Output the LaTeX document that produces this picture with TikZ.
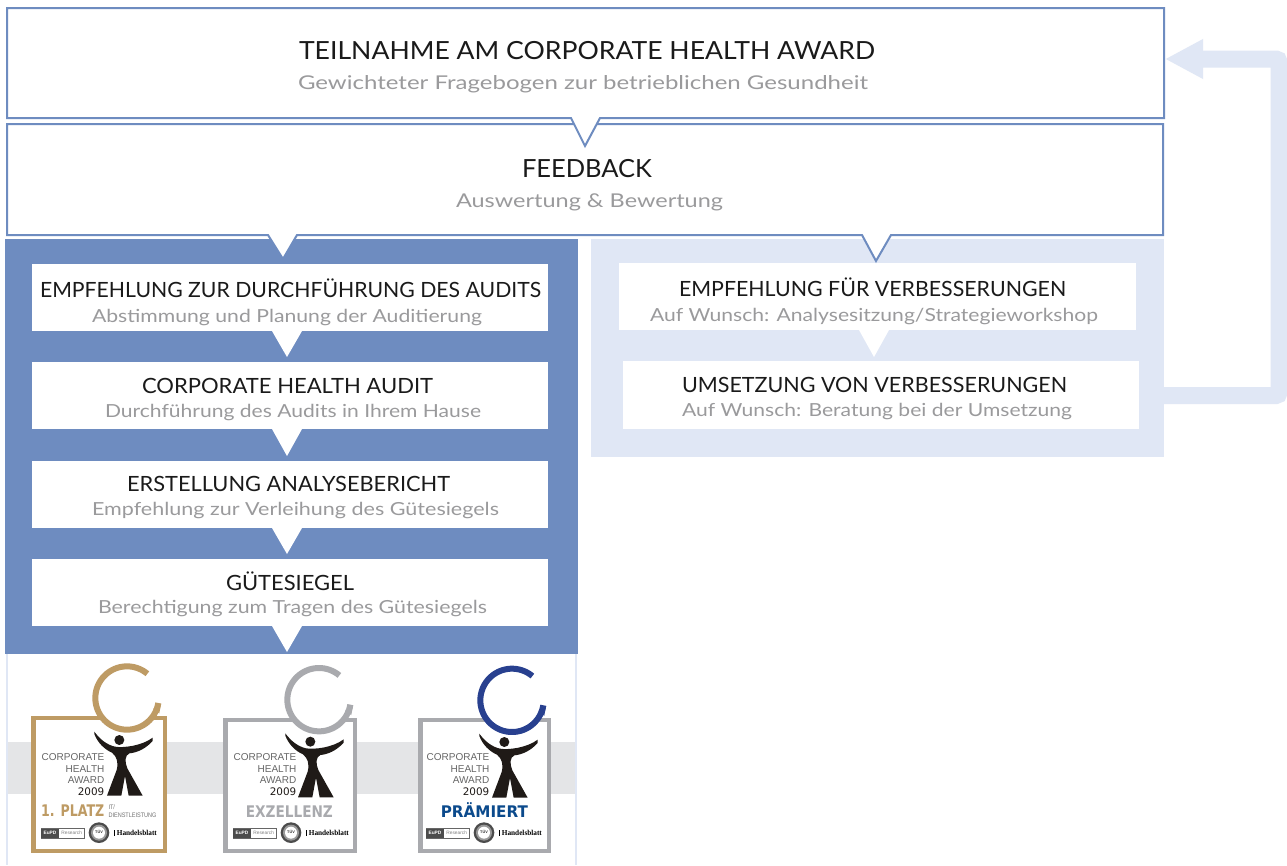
\documentclass[tikz,border=0pt]{standalone}
\usepackage{fontspec}
\usepackage{graphicx}
\setmainfont{Lato}
\newfontfamily\arialf{Liberation Sans}
\newfontfamily\serf{Liberation Serif}
\newfontfamily\dejaf{DejaVu Sans}
\usetikzlibrary{arrows.meta}
\definecolor{bluemain}{HTML}{6E8CC0}
\definecolor{bluelight}{HTML}{E0E7F5}
\definecolor{txtdark}{HTML}{1A1A1A}
\definecolor{txtgray}{HTML}{9A9A9C}
\definecolor{bandgray}{HTML}{E4E5E7}
\definecolor{gold}{HTML}{BE9B64}
\definecolor{silver}{HTML}{A9AAAE}
\definecolor{navy}{HTML}{28408F}
\definecolor{premblue}{HTML}{0B4A8C}
\definecolor{figblack}{HTML}{1F1A17}
\tikzset{
  x=1pt,y=-1pt,
  panelbox/.style={fill=#1,draw=none,inner sep=0pt,outer sep=0pt},
  headbox/.style={draw=bluemain,line width=2pt,fill=white,line join=miter},
  whitebox/.style={fill=white},
  txt/.style={anchor=base west,inner sep=0pt,outer sep=0pt},
  head/.style={txt,text=txtdark,font=\fontsize{#1}{#1}\selectfont},
  subh/.style={txt,text=txtgray,font=\fontsize{#1}{#1}\selectfont},
  badgetxt/.style={anchor=base east,inner sep=0pt,outer sep=0pt,text=black!60,font=\arialf\fontsize{10}{10}\selectfont},
  seallabel/.style={anchor=base west,inner sep=0pt,text=#1,font=\dejaf\bfseries\fontsize{16}{16}\selectfont},
  smalllabel/.style={anchor=base west,inner sep=0pt,text=black!55,font=\arialf\fontsize{6.5}{9}\selectfont},
}
% text fitted to the width it has in the reference
\newcommand{\fit}[2]{\resizebox{#1pt}{\height}{#2}}
\newcommand{\headline}[6]{%
  \node[head={#6}] (#1) at (#2,#3) {\fit{#4}{#5}};}
\newcommand{\subline}[6]{%
  \node[subh={#6}] (#1) at (#2,#3) {\fit{#4}{#5}};}
\newcommand{\downtri}[3]{\fill[white] (#1-15,#2) -- (#1+15,#2) -- (#1,#3) -- cycle;}
% #1 x shift, #2 width, #3 top, #4 colour
\newcommand{\badgeframe}[4]{%
  \draw[#4,line width=4.4pt,fill=white] (33.5+#1,#3+2.2) rectangle (33.5+#1+#2-4.4,850.8);}
% #1 ring cx, #2 ring cy, #3 ring colour (zoom coordinates)
\newcommand{\badgering}[3]{%
  \fill[white] (#1,#2) circle[radius=95];
  \draw[#3,line width=6pt] plot[domain=50:351,samples=70] ({#1+95*cos(\x)},{#2-95*sin(\x)});
  \fill[#3] ({#1+104*cos(351)},{#2-104*sin(351)}) -- ++(-6,30) -- ++(-18,-14) -- cycle;}
\newcommand{\badgefigure}{%
  \fill[figblack] (358,300) circle[radius=15];
  \fill[figblack] (283,275) .. controls (300,298) and (320,314) .. (345,320)
     .. controls (370,324) and (425,318) .. (458,293) -- (458,303)
     .. controls (435,328) and (410,338) .. (388,340)
     .. controls (374,347) and (374,365) .. (382,385)
     -- (428,467) -- (386,467) -- (375,408) -- (364,467) -- (321,467)
     -- (350,390) .. controls (356,365) and (350,350) .. (336,338)
     .. controls (313,328) and (293,308) .. (283,282) -- cycle;}
% #1 right edge of wordmark (zoom coordinates)
\newcommand{\badgewords}[1]{%
  \node[badgetxt] at (#1,362) {CORPORATE};
  \node[badgetxt] at (#1,397) {HEALTH};
  \node[badgetxt] at (#1,431) {AWARD};
  \node[badgetxt,text=figblack,font=\dejaf\fontsize{10.4}{10.4}\selectfont] at (#1,466) {2009};}
% logos row
\newcommand{\badgelogos}{%
  \draw[black!60,line width=.5pt,fill=white] (124,566) rectangle (253,594);
  \fill[black!70] (124,566) rectangle (177,594);
  \node[inner sep=0pt,text=white,font=\arialf\bfseries\fontsize{4.8}{4.8}\selectfont] at (150,579) {EuPD};
  \node[inner sep=0pt,text=black!50,font=\arialf\fontsize{4.8}{4.8}\selectfont] at (215,579) {Research};
  \fill[black!70] (297,578) circle[radius=31];
  \fill[black!40] (297,578) circle[radius=24];
  \fill[white] (297,578) circle[radius=18];
  \node[inner sep=0pt,text=black!80,font=\arialf\bfseries\fontsize{3.8}{3.8}\selectfont] at (297,575) {TÜV};
  \fill[black] (341,570) rectangle (343,588);
  \node[anchor=base west,inner sep=0pt,text=black,font=\serf\bfseries\fontsize{7.6}{7.6}\selectfont] at (350,587) {\resizebox{40pt}{\height}{Handelsblatt}};}
\begin{document}
\begin{tikzpicture}
\useasboundingbox (0,0) rectangle (1287,865);
\fill[white] (0,0) rectangle (1287,865);

% lower award area
\fill[bandgray] (8,742) rectangle (575,794);
\draw[bluelight,line width=2pt] (7,654) -- (7,865) (576,654) -- (576,865);

% panels
\node[panelbox=bluemain,minimum width=573pt,minimum height=415pt,anchor=north west] (seal) at (5,239) {};
\node[panelbox=bluelight,minimum width=573pt,minimum height=218pt,anchor=north west] (improve) at (591,239) {};

% left column boxes
\fill[whitebox] (32,264) rectangle (548,331);
\fill[whitebox] (32,362) rectangle (548,429);
\fill[whitebox] (32,461) rectangle (548,528);
\fill[whitebox] (32,559) rectangle (548,626);
\downtri{287}{331}{357}
\downtri{287}{429}{456}
\downtri{287}{528}{554}
\downtri{287}{626}{652}

% right column boxes
\fill[whitebox] (619,263) rectangle (1136,330);
\fill[whitebox] (623,361) rectangle (1139,429);
\downtri{874}{330}{357}

% feedback box with its two notches
\draw[headbox] (7,124) -- (1163,124) -- (1163,235) -- (891,235) -- (876,261) -- (862,235)
   -- (297,235) -- (283,259) -- (268,235) -- (7,235) -- cycle;
% award box with its notch
\draw[headbox] (7,8) -- (1164,8) -- (1164,118) -- (600,118) -- (585,146) -- (571,118) -- (7,118) -- cycle;

% loop connector
\coordinate (loopout) at (1163,395.5);
\coordinate (loopin) at (1165,59);
\draw[bluelight,line width=17pt,rounded corners=3pt,-{Triangle[width=37pt,length=38pt]}]
   (loopout) -- (1279,395.5) -- (1279,59) -- (loopin);

% texts
\headline{t1}{299}{59.5}{576}{TEILNAHME AM CORPORATE HEALTH AWARD}{25}
\subline{s1}{298}{89.5}{570}{Gewichteter Fragebogen zur betrieblichen Gesundheit}{19}
\headline{t2}{522}{177}{130}{FEEDBACK}{25}
\subline{s2}{456}{207}{267}{Auswertung \& Bewertung}{19}
\headline{t3}{40}{297}{501}{EMPFEHLUNG ZUR DURCHFÜHRUNG DES AUDITS}{21}
\subline{s3}{92}{322}{390}{Abstimmung und Planung der Auditierung}{18}
\headline{t4}{142}{393}{291}{CORPORATE HEALTH AUDIT}{21}
\subline{s4}{105}{417}{376}{Durchführung des Audits in Ihrem Hause}{18}
\headline{t5}{127}{491}{323}{ERSTELLUNG ANALYSEBERICHT}{21}
\subline{s5}{92}{515}{407}{Empfehlung zur Verleihung des Gütesiegels}{18}
\headline{t6}{226}{590}{128}{GÜTESIEGEL}{21}
\subline{s6}{98}{613}{389}{Berechtigung zum Tragen des Gütesiegels}{18}
\headline{t7}{679}{296}{387}{EMPFEHLUNG FÜR VERBESSERUNGEN}{21}
\subline{s7}{650}{321}{448}{Auf Wunsch: Analysesitzung/Strategieworkshop}{18}
\headline{t8}{682}{392}{385}{UMSETZUNG VON VERBESSERUNGEN}{21}
\subline{s8}{682}{416}{390}{Auf Wunsch: Beratung bei der Umsetzung}{18}

% badge 1
\badgeframe{0}{136}{716}{gold}
\begin{scope}[shift={(0,640)},scale=1/3]
  \badgering{381}{174}{gold}
  \badgefigure
  \badgewords{313}
  \node[seallabel=gold] at (123,530) {\resizebox{63pt}{\height}{1. PLATZ}};
  \node[smalllabel] at (325,532) {\resizebox{48pt}{\height}{\shortstack[l]{IT/\\DIENSTLEISTUNG}}};
  \badgelogos
\end{scope}

% badge 2
\badgeframe{192}{134}{718}{silver}
\begin{scope}[shift={(192,640)},scale=1/3]
  \badgering{381}{179}{silver}
  \begin{scope}[shift={(-3,5)}]\badgefigure\end{scope}
  \badgewords{313}
  \node[seallabel=silver] at (161,532) {\resizebox{87pt}{\height}{EXZELLENZ}};
  \badgelogos
\end{scope}

% badge 3
\badgeframe{387}{133}{718}{silver}
\begin{scope}[shift={(387,640)},scale=1/3]
  \badgering{375}{181}{navy}
  \begin{scope}[shift={(-6,6)}]\badgefigure\end{scope}
  \badgewords{307}
  \node[seallabel=premblue] at (161,532) {\resizebox{87pt}{\height}{PRÄMIERT}};
  \begin{scope}[shift={(-6,0)}]\badgelogos\end{scope}
\end{scope}
\end{tikzpicture}
\end{document}
